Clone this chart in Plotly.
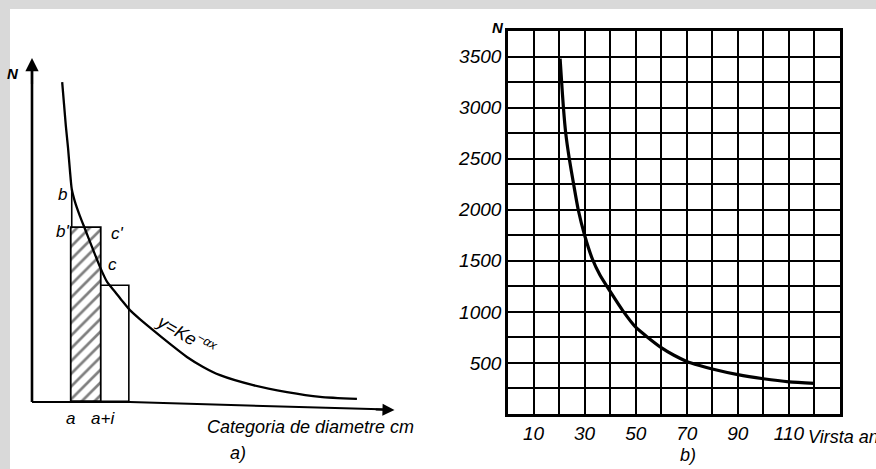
import plotly.graph_objects as go

W, H = 876, 469

# ---------------- Panel a) : schematic exponential distribution ----------------
curve_a_x = [8.2, 8.7, 9.2, 9.8, 10.3, 10.8, 11.7, 13.0, 14.4, 16.3, 18.5, 20.4, 22.6,
             24.5, 26.6, 29.3, 32.9, 37.5, 42.1, 46.5, 51.1, 60.1, 69.3, 78.3, 88.3]
curve_a_y = [93.0, 86.6, 80.2, 73.8, 67.4, 61.9, 58.1, 54.1, 50.3, 45.1, 39.2, 34.9, 32.0,
             29.4, 26.7, 24.1, 20.9, 16.9, 13.1, 10.2, 7.8, 4.9, 2.9, 1.5, 0.9]
class_left = [10.8, 18.9]
class_width = [8.1, 7.7]
class_height = [50.5, 33.8]
b_point_y = 61.9
a_xaxis_x = [0, 26.6, 97.0]
a_xaxis_y = [0, 0, -2.2]

# ---------------- Panel b) : number of trees vs age ----------------
age = [20.4, 21.0, 21.7, 22.6, 24.0, 25.7, 27.5, 30, 33, 36, 40, 45, 50, 55, 60, 65,
       70, 75, 80, 90, 100, 110, 120]
trees = [3480, 3250, 3000, 2750, 2500, 2250, 2000, 1750, 1520, 1360, 1200, 1010, 850,
         745, 650, 575, 515, 475, 440, 385, 345, 315, 300]
b_xticks = [10, 30, 50, 70, 90, 110]
b_yticks = [500, 1000, 1500, 2000, 2500, 3000, 3500]

FONT = "Liberation Sans"


def px(x):
    return x / W


def py(y):
    return 1 - y / H


fig = go.Figure()

# bars (class rectangles)
fig.add_trace(go.Bar(
    x=[class_left[0] + class_width[0] / 2], y=[class_height[0]], width=[class_width[0]],
    base=0, xaxis="x", yaxis="y",
    marker=dict(color="white", line=dict(color="black", width=1.8),
                pattern=dict(shape="/", fgcolor="black", bgcolor="white", size=9, solidity=0.3)),
    showlegend=False, hoverinfo="skip"))
fig.add_trace(go.Bar(
    x=[class_left[1] + class_width[1] / 2], y=[class_height[1]], width=[class_width[1]],
    base=0, xaxis="x", yaxis="y",
    marker=dict(color="white", line=dict(color="black", width=1.6)),
    showlegend=False, hoverinfo="skip"))
# vertical segment from b' up to b
fig.add_trace(go.Scatter(x=[class_left[0], class_left[0]], y=[class_height[0], b_point_y],
                         mode="lines", line=dict(color="black", width=1.6),
                         xaxis="x", yaxis="y", showlegend=False, hoverinfo="skip"))
# axes of panel a
fig.add_trace(go.Scatter(x=[0, 0], y=[0, 98], mode="lines", line=dict(color="black", width=2.6),
                         xaxis="x", yaxis="y", showlegend=False, hoverinfo="skip"))
fig.add_trace(go.Scatter(x=a_xaxis_x, y=a_xaxis_y, mode="lines", line=dict(color="black", width=2),
                         xaxis="x", yaxis="y", showlegend=False, hoverinfo="skip"))
# exponential curve
fig.add_trace(go.Scatter(x=curve_a_x, y=curve_a_y, mode="lines",
                         line=dict(color="black", width=2.3, shape="spline", smoothing=0.6),
                         xaxis="x", yaxis="y", showlegend=False, hoverinfo="skip"))

# panel b curve
fig.add_trace(go.Scatter(x=age, y=trees, mode="lines",
                         line=dict(color="black", width=3.2, shape="spline", smoothing=0.6),
                         xaxis="x2", yaxis="y2", showlegend=False, hoverinfo="skip"))

grid_common = dict(showgrid=True, gridcolor="black", gridwidth=1.6, zeroline=False,
                   showline=True, mirror=True, linecolor="black", linewidth=2.6, ticks="",
                   tickfont=dict(family=FONT, size=19, color="black", style="italic"))

fig.update_layout(
    width=W, height=H, autosize=False,
    margin=dict(l=0, r=0, t=0, b=0),
    paper_bgcolor="#d9d9d9", plot_bgcolor="rgba(0,0,0,0)",
    barmode="overlay", bargap=0,
    xaxis=dict(domain=[px(24.64), px(407.36)], range=[-2, 102], visible=False, fixedrange=True),
    yaxis=dict(domain=[py(419.2), py(51.1)], range=[-5, 102], visible=False, fixedrange=True),
    xaxis2=dict(domain=[px(508), px(840)], range=[0, 130], anchor="y2",
                tickvals=b_xticks, ticktext=[str(v) for v in b_xticks],
                minor=dict(dtick=10, tick0=0, showgrid=True, gridcolor="black", gridwidth=1.6),
                **grid_common),
    yaxis2=dict(domain=[py(414), py(31)], range=[0, 3750], anchor="x2",
                tickvals=b_yticks, ticktext=[str(v) for v in b_yticks],
                minor=dict(dtick=250, tick0=0, showgrid=True, gridcolor="black", gridwidth=1.6),
                **grid_common),
    shapes=[dict(type="rect", xref="paper", yref="paper", x0=px(10), x1=1.0, y0=0, y1=py(9),
                 fillcolor="white", line=dict(width=0), layer="below")],
)

def ann(text, x, y, size=16, xanchor="center", angle=0, bold=False):
    fig.add_annotation(text=("<b>%s</b>" % text) if bold else text,
                       x=px(x), y=py(y), xref="paper", yref="paper",
                       xanchor=xanchor, yanchor="middle", showarrow=False, textangle=angle,
                       font=dict(family=FONT, size=size, color="black", style="italic"))

# arrowheads of panel a axes
fig.add_annotation(x=0, y=100, ax=0, ay=92, xref="x", yref="y", axref="x", ayref="y",
                   text="", showarrow=True, arrowhead=2, arrowsize=1.2, arrowwidth=2.2, arrowcolor="black")
fig.add_annotation(x=98.5, y=-2.35, ax=93, ay=-2.2, xref="x", yref="y", axref="x", ayref="y",
                   text="", showarrow=True, arrowhead=2, arrowsize=1.2, arrowwidth=2, arrowcolor="black")

# panel a texts
ann("N", 13, 73, size=15, bold=True)
ann("b", 62, 194, size=17)
ann("b'", 62, 231, size=17)
ann("c'", 117, 234, size=17)
ann("c", 112, 264, size=17)
ann("a", 70, 418, size=17)
ann("a+i", 103, 418, size=17)
ann("Categoria de diametre cm", 310, 427, size=18)
ann("a)", 238, 453, size=18)
ann("y=Ke<sup>−αx</sup>", 186, 334, size=18, angle=30)

# panel b texts
ann("N", 498, 27, size=15, bold=True)
ann("Virsta ani", 806, 437, size=18, xanchor="left")
ann("b)", 688, 455, size=18)

fig.write_html("out.html", config={"displayModeBar": False},
               post_script="document.body.style.margin='0';document.body.style.overflow='hidden';")
